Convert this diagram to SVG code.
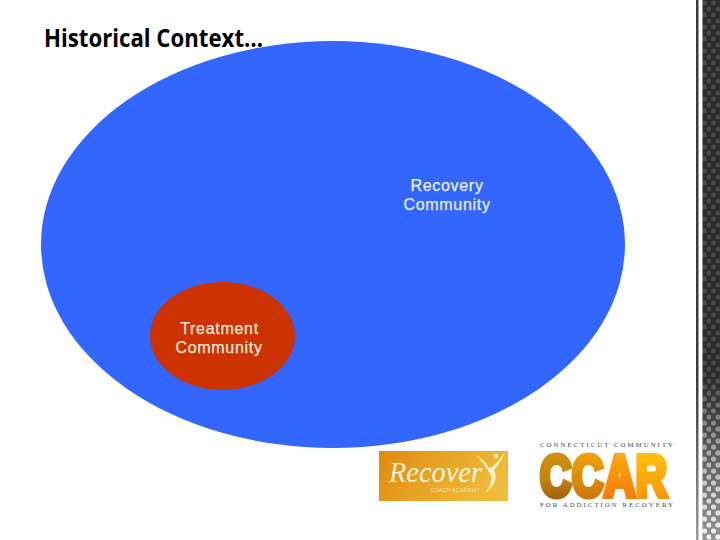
<svg xmlns="http://www.w3.org/2000/svg" width="720" height="540" viewBox="0 0 720 540">
<style>
.lbl{font-family:"Liberation Sans",Arial,sans-serif;font-size:16px;letter-spacing:0.7px;text-anchor:middle;stroke-width:0.25px}
.cap{font-family:"Liberation Serif","Times New Roman",serif;font-size:6.800px;fill:#4a4a4a}
</style>
<defs>
<linearGradient id="orange" x1="0" y1="0" x2="1" y2="0.3"><stop offset="0" stop-color="#e08a10"/><stop offset="1" stop-color="#eebb3a"/></linearGradient>
<linearGradient id="fade" x1="0" y1="0" x2="0" y2="1"><stop offset="0" stop-color="#fff" stop-opacity="0"/><stop offset="0.7" stop-color="#fff" stop-opacity="0"/><stop offset="1" stop-color="#fff" stop-opacity="0.5"/></linearGradient>
<linearGradient id="c1" gradientUnits="userSpaceOnUse" x1="0" y1="-45" x2="0" y2="0"><stop offset="0" stop-color="#d0930f"/><stop offset="0.6" stop-color="#c4850e"/><stop offset="1" stop-color="#a8650c"/></linearGradient>
<linearGradient id="c2" gradientUnits="userSpaceOnUse" x1="0" y1="-45" x2="0" y2="0"><stop offset="0" stop-color="#f0a50c"/><stop offset="1" stop-color="#cf7a0c"/></linearGradient>
<linearGradient id="c3" gradientUnits="userSpaceOnUse" x1="0" y1="-45" x2="0" y2="0"><stop offset="0" stop-color="#ffa90f"/><stop offset="1" stop-color="#f47f0a"/></linearGradient>
<linearGradient id="c4" gradientUnits="userSpaceOnUse" x1="0" y1="-45" x2="0" y2="0"><stop offset="0" stop-color="#ffc20e"/><stop offset="1" stop-color="#f9980c"/></linearGradient>
<linearGradient id="maskGrad" x1="0" y1="0" x2="0" y2="1"><stop offset="0" stop-color="#000"/><stop offset="0.7" stop-color="#000"/><stop offset="1" stop-color="#ddd"/></linearGradient>
<mask id="dotMask" maskUnits="userSpaceOnUse" x="696" y="0" width="24" height="540"><rect x="696" y="0" width="24" height="540" fill="url(#maskGrad)"/></mask>
<pattern id="weave" width="9" height="12" patternUnits="userSpaceOnUse"><rect width="9" height="12" fill="#2b2b2b"/><circle cx="2.500" cy="3" r="2.400" fill="#4a4a4a"/><circle cx="7" cy="9" r="2.400" fill="#4a4a4a"/></pattern>
<pattern id="wdots" width="9" height="12" patternUnits="userSpaceOnUse"><circle cx="2.500" cy="3" r="2.600" fill="#fff"/><circle cx="7" cy="9" r="2.600" fill="#fff"/></pattern>
</defs>
<rect width="720" height="540" fill="#fff"/>
<g id="sidebar">
<rect x="696" y="0" width="2.500" height="540" fill="#3a3a3a"/>
<rect x="702.500" y="0" width="17.500" height="540" fill="url(#weave)"/>
<rect x="696" y="0" width="24" height="540" fill="url(#fade)"/>
<rect x="702.500" y="0" width="17.500" height="540" fill="url(#wdots)" mask="url(#dotMask)"/>
</g>
<text x="44" y="47" font-family="'Open Sans','Noto Sans',sans-serif" font-size="25" font-weight="700" fill="#000" textLength="219" lengthAdjust="spacingAndGlyphs">Historical Context…</text>
<g id="connectors"></g>
<g id="recovery-community">
<ellipse cx="333" cy="244.500" rx="292" ry="203.500" fill="#3366ff"/>
<text class="lbl" x="447" y="190.500" fill="#e8f0ff" stroke="#e8f0ff">Recovery</text>
<text class="lbl" x="447" y="209.500" fill="#e8f0ff" stroke="#e8f0ff">Community</text>
</g>
<g id="treatment-community">
<ellipse cx="222.500" cy="336" rx="72.500" ry="54" fill="#cc3300"/>
<text class="lbl" x="219.500" y="333.500" fill="#f8eadc" stroke="#f8eadc">Treatment</text>
<text class="lbl" x="219" y="352.500" fill="#f8eadc" stroke="#f8eadc">Community</text>
</g>
<g id="recover-logo">
<rect x="379" y="451" width="129" height="50" fill="url(#orange)"/>
<text x="389" y="482" font-family="'Liberation Serif',serif" font-style="italic" font-size="29" fill="#fff5dc" textLength="93" lengthAdjust="spacingAndGlyphs">Recover</text>
<text x="430" y="492" font-family="'Liberation Sans',sans-serif" font-size="5" fill="#fbe2a8" textLength="50" lengthAdjust="spacingAndGlyphs">COACH ACADEMY</text>
<path d="M476 455Q484 460 489 468Q494 468 505 452Q500 464 494 470Q500 482 485 493Q495 481 489 472Q484 463 476 455Z" fill="#fff3cf"/>
<circle cx="496" cy="456" r="2.200" fill="#fff3cf"/>
</g>
<g id="ccar-logo">
<text class="cap" x="540" y="447" textLength="133" lengthAdjust="spacing">CONNECTICUT COMMUNITY</text>
<g transform="translate(540 496) scale(0.745 1)" font-family="'Liberation Sans',sans-serif" font-weight="700" font-size="58" stroke-width="6">
<text x="0" y="0" letter-spacing="1"><tspan fill="url(#c1)" stroke="url(#c1)">C</tspan><tspan fill="url(#c2)" stroke="url(#c2)">C</tspan><tspan fill="url(#c3)" stroke="url(#c3)">A</tspan><tspan fill="url(#c4)" stroke="url(#c4)">R</tspan></text>
</g>
<text class="cap" x="540" y="507" textLength="133" lengthAdjust="spacing">FOR ADDICTION RECOVERY</text>
</g>
</svg>
